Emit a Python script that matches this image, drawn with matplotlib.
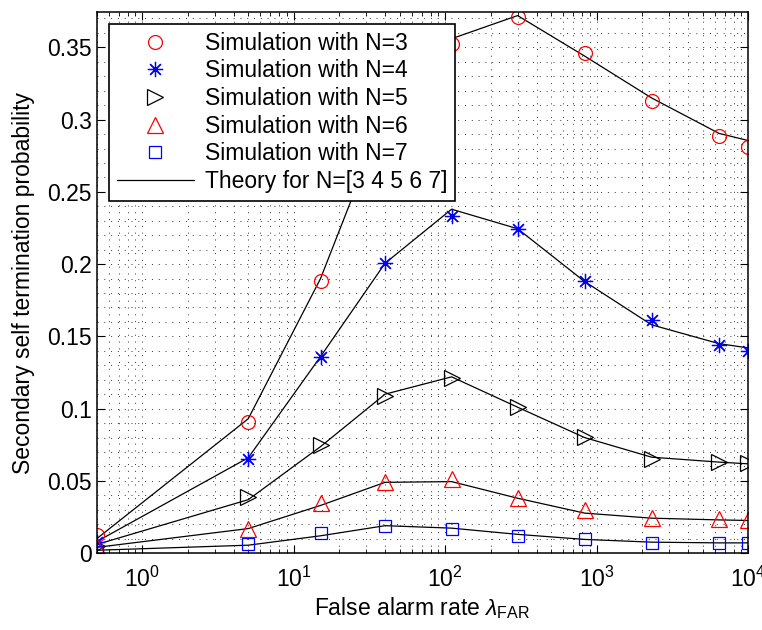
import matplotlib
matplotlib.use('Agg')
import matplotlib.pyplot as plt
from matplotlib.ticker import FixedLocator, MultipleLocator, FuncFormatter, LogLocator, NullFormatter

plt.rcParams['font.family'] = ['Liberation Sans', 'DejaVu Sans']
plt.rcParams['mathtext.fontset'] = 'custom'
plt.rcParams['mathtext.rm'] = 'Liberation Sans'
plt.rcParams['mathtext.it'] = 'Liberation Sans:italic'

### Data ###

# False alarm rate values
far = [0.5, 5, 15, 40, 110, 300, 830, 2300, 6400, 10000]

# Simulation points for each N
sim_n3 = [0.0127, 0.091, 0.188, 0.300, 0.352, 0.371, 0.346, 0.313, 0.289, 0.281]
sim_n4 = [0.008, 0.065, 0.136, 0.2006, 0.2333, 0.2245, 0.188, 0.161, 0.144, 0.140]
sim_n5 = [0.005, 0.039, 0.075, 0.109, 0.1215, 0.1014, 0.0807, 0.065, 0.063, 0.0623]
sim_n6 = [0.004, 0.0166, 0.0346, 0.0495, 0.051, 0.0385, 0.030, 0.0242, 0.0237, 0.0226]
sim_n7 = [0.001, 0.0062, 0.0138, 0.019, 0.0165, 0.012, 0.0099, 0.0069, 0.0069, 0.0073]

# Theory curves for each N
th_n3 = [0.010, 0.093, 0.190, 0.304, 0.356, 0.372, 0.344, 0.315, 0.2905, 0.2855]
th_n4 = [0.008, 0.066, 0.136, 0.2006, 0.238, 0.2245, 0.188, 0.158, 0.145, 0.142]
th_n5 = [0.006, 0.037, 0.0737, 0.110, 0.122, 0.101, 0.080, 0.0664, 0.063, 0.0618]
th_n6 = [0.004, 0.017, 0.033, 0.049, 0.0495, 0.038, 0.0277, 0.0242, 0.023, 0.0226]
th_n7 = [0.002, 0.0055, 0.012, 0.019, 0.0173, 0.013, 0.0095, 0.0076, 0.0071, 0.0071]

y_ticks = [0, 0.05, 0.1, 0.15, 0.2, 0.25, 0.3, 0.35]

### Plot ###

fs = 16.5

fig = plt.figure(figsize=(7.62, 6.30), dpi=100)
ax = fig.add_axes([0.127, 0.122, 0.855, 0.859])

# Theory lines first so markers sit on top
theory_line = None
for th in [th_n3, th_n4, th_n5, th_n6, th_n7]:
    theory_line, = ax.plot(far, th, '-', color='black', linewidth=0.9)

handles = []
h, = ax.plot(far, sim_n3, linestyle='none', marker='o', markersize=10, markerfacecolor='none',
             markeredgecolor='red', markeredgewidth=0.9, label='Simulation with N=3')
handles.append(h)
h, = ax.plot(far, sim_n4, linestyle='none', marker=(8, 2, 0), markersize=11, color='blue',
             markeredgewidth=0.9, label='Simulation with N=4')
handles.append(h)
h, = ax.plot(far, sim_n5, linestyle='none', marker='>', markersize=11, markerfacecolor='none',
             markeredgecolor='black', markeredgewidth=0.9, label='Simulation with N=5')
handles.append(h)
h, = ax.plot(far, sim_n6, linestyle='none', marker='^', markersize=11, markerfacecolor='none',
             markeredgecolor='red', markeredgewidth=0.9, label='Simulation with N=6')
handles.append(h)
h, = ax.plot(far, sim_n7, linestyle='none', marker='s', markersize=8, markerfacecolor='none',
             markeredgecolor='blue', markeredgewidth=0.9, label='Simulation with N=7')
handles.append(h)
theory_line.set_label('Theory for N=[3 4 5 6 7]')
handles.append(theory_line)

ax.set_xscale('log')
ax.set_xlim(0.5, 1e4)
ax.set_ylim(0, 0.3745)

ax.xaxis.set_major_locator(LogLocator(base=10, numticks=10))
ax.xaxis.set_minor_locator(LogLocator(base=10, subs=range(2, 10), numticks=20))
ax.xaxis.set_minor_formatter(NullFormatter())
ax.yaxis.set_major_locator(FixedLocator(y_ticks))
ax.yaxis.set_minor_locator(MultipleLocator(0.01))
ax.yaxis.set_major_formatter(FuncFormatter(lambda v, p: '%g' % round(v, 3)))

# MATLAB style ticks and dotted grid
ax.tick_params(which='both', direction='in', top=True, right=True, labelsize=fs)
ax.tick_params(which='major', length=6, width=0.8)
ax.tick_params(which='minor', length=3, width=0.6)
ax.tick_params(axis='y', which='minor', length=0)
ax.tick_params(axis='x', which='major', pad=10)
ax.grid(True, which='major', linestyle=(0, (1, 6)), color='#333333', linewidth=0.7)
ax.grid(True, which='minor', linestyle=(0, (1, 6)), color='#333333', linewidth=0.7)
for s in ax.spines.values():
    s.set_linewidth(1.1)

ax.set_xlabel('False alarm rate $\\lambda_{\\mathrm{FAR}}$', fontsize=fs, labelpad=2)
ax.set_ylabel('Secondary self termination probability', fontsize=fs, labelpad=9)

leg = ax.legend(handles=handles, loc='upper left', bbox_to_anchor=(0.018, 0.978), fontsize=fs,
                handlelength=3.4, borderpad=0.35, labelspacing=0.2, handletextpad=0.45,
                fancybox=False, framealpha=1, edgecolor='black', borderaxespad=0)
leg.get_frame().set_linewidth(1.2)

plt.savefig('out.png', dpi=100)
